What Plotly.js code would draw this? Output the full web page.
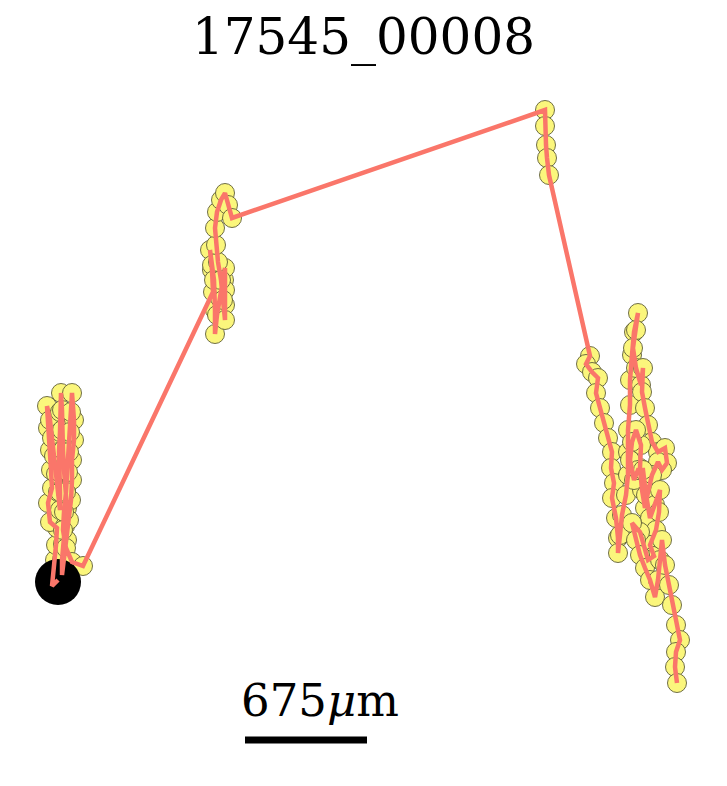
<!DOCTYPE html>
<html>
<head>
<meta charset="utf-8">
<script src="https://cdn.plot.ly/plotly-3.0.1.min.js"></script>
<style>
  html, body { margin: 0; padding: 0; background: #fff; }
  #track { width: 727px; height: 786px; }
</style>
</head>
<body>
<div id="track"></div>
<script>
// track positions (image units, y grows downward)
var trackX = [58, 52, 53, 55, 56, 57, 50, 48, 52, 51, 50, 48, 47, 50, 52, 54, 56, 58, 60, 60, 59, 59, 60, 60, 61,
  62, 62, 63, 64, 66, 67, 65, 63, 62, 62, 64, 67, 69, 71, 72, 72, 74, 74, 72, 71, 70, 69, 68, 66, 64, 63, 66, 72, 83,
  213, 212, 210, 212, 214, 215, 215, 217, 220, 224, 225, 225, 225, 225, 223, 221, 218, 216, 215, 217, 221, 225, 228, 232,
  545, 545, 546, 547, 549,
  590, 586, 592, 598, 596, 600, 604, 608, 612, 611, 614, 612, 616, 618, 618, 620, 622, 626, 628, 628, 628, 630, 630, 632,
  634, 638, 636, 633, 636, 641, 643, 642, 645, 648, 652, 658, 665, 667, 662, 658, 652, 648, 645, 642, 640, 641,
  636, 632, 630, 634, 638, 643,
  646, 650, 655, 660, 659, 656, 650, 654, 648, 640, 632, 636, 640, 645, 650, 655, 658, 660, 662, 665, 669, 672, 676, 680, 676,
  675, 677];
var trackY = [580, 586, 576, 560, 545, 528, 522, 503, 488, 470, 450, 428, 406, 420, 438, 456, 474, 492, 510, 492, 472,
  452, 432, 412, 393, 410, 430, 450, 470, 490, 508, 526, 544, 560, 575, 558, 540, 520, 500, 480, 460, 440, 420, 393,
  412, 432, 452, 472, 492, 512, 530, 548, 562, 566,
  292, 270, 250, 265, 280, 310, 334, 315, 298, 280, 268, 290, 305, 320, 300, 280, 262, 245, 228, 212, 200, 193, 205, 218,
  110, 126, 145, 158, 175,
  356, 364, 372, 378, 393, 408, 423, 438, 452, 468, 483, 498, 518, 538, 553, 535, 515, 495, 475, 452, 430, 405, 380, 355,
  332, 313, 330, 348, 368, 385, 368, 392, 408, 425, 442, 452, 448, 463, 470, 462, 475, 492, 508, 490, 468, 445,
  430, 442, 460, 480, 470, 470,
  495, 518, 505, 490, 512, 530, 545, 556, 560, 532, 523, 540, 555, 568, 580, 597, 580, 560, 540, 565, 585, 605, 625, 640, 652,
  667, 683];

var title = '17545_00008';
var scaleLabel = '675<i>μ</i>m';
var scaleLen = 122;   // image units covered by 675 μm
var scaleStart = 245;
var scaleY = 740;

var data = [
  { // every recorded position
    type: 'scatter', mode: 'markers',
    x: trackX, y: trackY,
    marker: {size: 19, color: '#fbf67c', line: {color: '#5f5e38', width: 0.9}},
    hoverinfo: 'skip', showlegend: false
  },
  { // start point
    type: 'scatter', mode: 'markers',
    x: [trackX[0]], y: [trackY[0] + 2],
    marker: {size: 46, color: '#000'},
    hoverinfo: 'skip', showlegend: false
  },
  { // path on top
    type: 'scatter', mode: 'lines',
    x: trackX, y: trackY,
    line: {color: '#fa766a', width: 4.5},
    hoverinfo: 'skip', showlegend: false
  }
];

var hidden = {visible: false, fixedrange: true};
var layout = {
  width: 727, height: 786,
  margin: {l: 0, r: 0, t: 0, b: 0},
  paper_bgcolor: '#fff', plot_bgcolor: '#fff',
  title: {
    text: title, x: 0.5, xref: 'paper', xanchor: 'center',
    y: 1 - 36 / 786, yref: 'container', yanchor: 'middle',
    font: {family: 'DejaVu Serif', size: 50, color: '#000'}
  },
  xaxis: Object.assign({range: [0, 727]}, hidden),
  yaxis: Object.assign({range: [786, 0]}, hidden),
  shapes: [{
    type: 'line', xref: 'x', yref: 'y',
    x0: scaleStart, x1: scaleStart + scaleLen, y0: scaleY, y1: scaleY,
    line: {color: '#000', width: 7}
  }],
  annotations: [{
    text: scaleLabel, xref: 'x', yref: 'y',
    x: scaleStart + scaleLen / 2 + 14, y: 700,
    xanchor: 'center', yanchor: 'middle', showarrow: false,
    font: {family: 'DejaVu Serif', size: 45, color: '#000'}
  }]
};

Plotly.newPlot('track', data, layout, {staticPlot: true, displayModeBar: false});
</script>
</body>
</html>
